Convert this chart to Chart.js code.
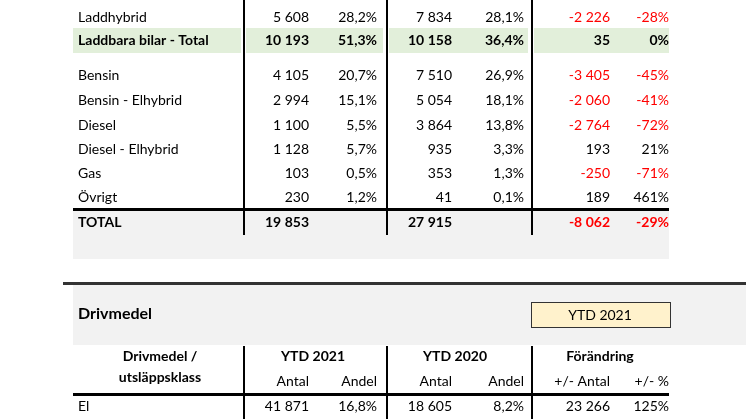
<!DOCTYPE html>
<html><head><meta charset="utf-8">
<script src="https://cdn.jsdelivr.net/npm/chart.js@4/dist/chart.umd.min.js"></script>
<style>html,body{margin:0;padding:0;background:#fff}#c{display:block}</style></head>
<body><canvas id="c" width="746" height="419"></canvas>
<script>
const categories=["Laddhybrid","Laddbara bilar - Total","Bensin","Bensin - Elhybrid","Diesel","Diesel - Elhybrid","Gas","Övrigt","TOTAL"];
const ytd2021Antal=["5 608","10 193","4 105","2 994","1 100","1 128","103","230","19 853"];
const ytd2021Andel=["28,2%","51,3%","20,7%","15,1%","5,5%","5,7%","0,5%","1,2%",""];
const ytd2020Antal=["7 834","10 158","7 510","5 054","3 864","935","353","41","27 915"];
const ytd2020Andel=["28,1%","36,4%","26,9%","18,1%","13,8%","3,3%","1,3%","0,1%",""];
const diffAntal=["-2 226","35","-3 405","-2 060","-2 764","193","-250","189","-8 062"];
const diffPct=["-28%","0%","-45%","-41%","-72%","21%","-71%","461%","-29%"];
const rowY=[17,40,75,100,125,149,173,197,222];
const headerTitles=["Drivmedel","YTD 2021"];
const colHeads=["YTD 2021","YTD 2020","Förändring"];
const subHeads=["Antal","Andel","Antal","Andel","+/- Antal","+/- %"];
const bottomCats=["El"];
const bottomVals=[["41 871","16,8%","18 605","8,2%","23 266","125%"]];

const F='Lato, "Open Sans", sans-serif';
const colX=[309,377,452,524,610,669];
const tablePlugin={id:'table',afterDraw(chart){
 const c=chart.ctx;c.save();
 c.fillStyle='#e2efda';c.fillRect(73,28,168,25);c.fillRect(246,28,137,25);c.fillRect(389,28,139,25);c.fillRect(534,28,135,25);
 c.fillStyle='#f2f2f2';c.fillRect(73,211,596,48);
 c.fillStyle='#f2f2f2';c.fillRect(73,285,673,60);
 c.fillStyle='#000';c.fillRect(73,208,596,3);
 c.fillStyle='#333';c.fillRect(63,282,683,3);
 c.fillStyle='#000';
 [243,386,531].forEach(x=>{c.fillRect(x,0,2,235);c.fillRect(x,346,2,73);});
 c.fillRect(73,393,596,3);
 c.textBaseline='middle';
 categories.forEach((cat,i)=>{
  const bold=(i===1||i===8);
  c.font=(bold?'bold ':'')+'14px '+F;
  c.fillStyle='#000';c.textAlign='left';c.fillText(cat,78,rowY[i]);
  c.textAlign='right';
  const vals=[ytd2021Antal[i],ytd2021Andel[i],ytd2020Antal[i],ytd2020Andel[i],diffAntal[i],diffPct[i]];
  vals.forEach((v,j)=>{c.fillStyle=(j>=4&&v.startsWith('-'))?'#ff0000':'#000';c.fillText(v,colX[j],rowY[i]);});
 });
 c.fillStyle='#000';c.font='bold 16px '+F;c.textAlign='left';c.fillText(headerTitles[0],78,314);
 c.fillStyle='#fff2cc';c.fillRect(531,302,139,25);c.strokeStyle='#333';c.lineWidth=1;c.strokeRect(531.5,302.5,139,25);
 c.fillStyle='#000';c.font='14px '+F;c.textAlign='center';c.fillText(headerTitles[1],600,315);
 c.font='bold 14px '+F;c.fillText('Drivmedel /',160,356);c.fillText('utsläppsklass',160,377);
 [313,455,600].forEach((x,i)=>c.fillText(colHeads[i],x,356));
 c.font='14px '+F;c.textAlign='right';
 subHeads.forEach((s,j)=>c.fillText(s,colX[j],381));
 bottomCats.forEach((cat,i)=>{c.textAlign='left';c.fillText(cat,78,406);c.textAlign='right';bottomVals[i].forEach((v,j)=>c.fillText(v,colX[j],406));});
 c.restore();}};
new Chart(document.getElementById('c'),{type:'bar',data:{labels:[],datasets:[]},
 options:{responsive:false,animation:false,plugins:{legend:{display:false},tooltip:{enabled:false}},scales:{x:{display:false},y:{display:false}}},
 plugins:[tablePlugin]});
</script></body></html>
